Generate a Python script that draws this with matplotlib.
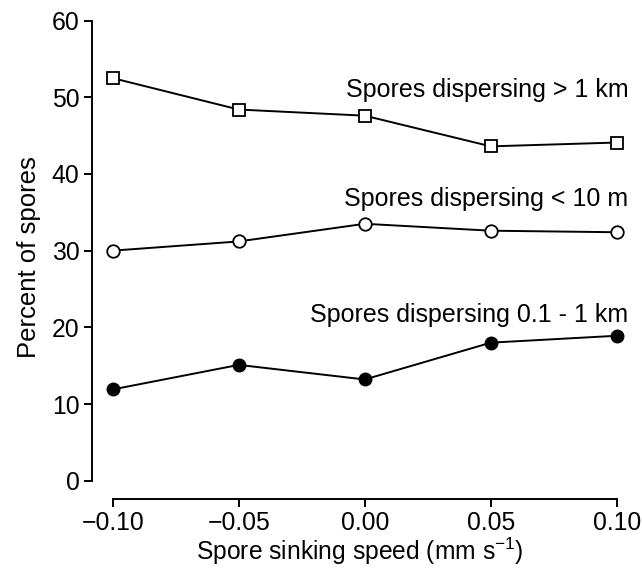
import numpy as np
import matplotlib
matplotlib.use("Agg")
import matplotlib.pyplot as plt

plt.rcParams['font.family'] = ['Liberation Sans', 'DejaVu Sans']

speed = [-0.10, -0.05, 0.00, 0.05, 0.10]
far = [52.5, 48.4, 47.6, 43.6, 44.1]       # > 1 km
near = [30.0, 31.2, 33.5, 32.6, 32.4]      # < 10 m
mid = [11.9, 15.1, 13.2, 18.0, 18.9]       # 0.1 - 1 km

xticks = [-0.10, -0.05, 0.00, 0.05, 0.10]
xticklabels = ['\u22120.10', '\u22120.05', '0.00', '0.05', '0.10']
yticks = [0, 10, 20, 30, 40, 50, 60]

fig = plt.figure(figsize=(6.42, 5.69), dpi=100)
ax = fig.add_axes([92 / 642, 1 - 498.7 / 569, (628 - 92) / 642, (498.7 - 16) / 569])

lw = 1.4
ax.plot(speed, far, '-s', color='black', lw=lw, ms=8, mfc='white', mec='black', mew=1.3)
ax.plot(speed, near, '-o', color='black', lw=lw, ms=9, mfc='white', mec='black', mew=1.3)
ax.plot(speed, mid, '-o', color='black', lw=lw, ms=9, mfc='black', mec='black')

ax.set_xlim(-0.1082, 0.1044)
ax.set_ylim(-2.35, 60.6)

for s in ['top', 'right']:
    ax.spines[s].set_visible(False)
ax.spines['left'].set_bounds(0, 60)
ax.spines['bottom'].set_bounds(-0.10, 0.10)
ax.spines['left'].set_linewidth(1.4)
ax.spines['bottom'].set_linewidth(1.4)

ax.set_xticks(xticks)
ax.set_xticklabels(xticklabels)
ax.set_yticks(yticks)
ax.tick_params(labelsize=17.8, width=1.4, length=6, pad=3)

ax.set_xlabel('Spore sinking speed (mm s$^{\\mathregular{-1}}$)', fontsize=17.7, labelpad=0.5)
ax.set_ylabel('Percent of spores', fontsize=18.5, labelpad=8)

ax.text(0.1045, 51.0, 'Spores dispersing > 1 km', ha='right', va='center', fontsize=18)
ax.text(0.1045, 36.7, 'Spores dispersing < 10 m', ha='right', va='center', fontsize=18)
ax.text(0.1045, 21.6, 'Spores dispersing 0.1 - 1 km', ha='right', va='center', fontsize=18)

fig.savefig('out.png', dpi=100)
